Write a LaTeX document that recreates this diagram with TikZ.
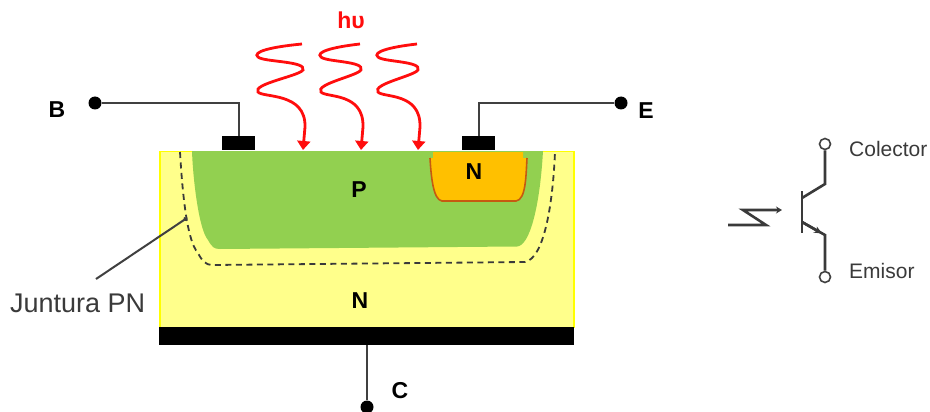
\documentclass[tikz,border=0pt]{standalone}
\usepackage{fontspec}
\setmainfont{Liberation Sans}
\usetikzlibrary{arrows.meta, positioning, calc}
\definecolor{Bulk}{HTML}{FFFF8B}
\definecolor{BulkEdge}{HTML}{FFFF00}
\definecolor{Pwell}{HTML}{92D050}
\definecolor{Pocket}{HTML}{FFC000}
\definecolor{PocketEdge}{HTML}{C55A11}
\definecolor{Photon}{HTML}{FF0D0D}
\definecolor{Wire}{HTML}{404040}
\definecolor{Ink}{HTML}{3A3A3A}

\begin{document}
\begin{tikzpicture}[
    x=1pt, y=-1pt,
    contact/.style={fill=black, inner sep=0pt, minimum width=33pt, minimum height=14pt},
    termdot/.style={circle, fill=black, inner sep=0pt, minimum size=13pt},
    termring/.style={circle, draw=Wire, fill=white, line width=1.6pt, inner sep=0pt, minimum size=11pt},
    wire/.style={draw=Wire, line width=2pt},
    symline/.style={draw=Ink, line width=2.6pt},
    photon/.style={draw=Photon, line width=2.8pt, -{Triangle[length=9pt, width=13pt]}},
    bold/.style={font=\fontsize{23}{23}\selectfont\bfseries},
    lbl/.style={font=\fontsize{21}{21}\selectfont, text=Ink, anchor=west, inner sep=0pt}
]
\useasboundingbox (0,0) rectangle (930,412);

% =============================================
% SUBSTRATE
% =============================================
\draw[BulkEdge, fill=Bulk, line width=1.5pt] (160,328) -- (160,151.5) -- (574,151.5) -- (574,328);
\fill[black] (159,327) rectangle (574,345);

% =============================================
% P REGION
% =============================================
\fill[Pwell] (192,151) .. controls (193,180) and (199,230) .. (208,240)
    .. controls (212,247) and (214,249) .. (220,249)
    -- (517,246.5) .. controls (530,246) and (540,205) .. (543,151) -- cycle;

% N pocket
\fill[Pocket] (430,158) -- (433,158) -- (433,152) -- (523,152) -- (523,158) -- (527,158)
    .. controls (526,175) and (526,200) .. (516,201) -- (442,201)
    .. controls (433,200) and (431,175) .. (430,158) -- cycle;
\draw[PocketEdge, line width=1.6pt] (430,158) .. controls (431,175) and (433,200) .. (442,201)
    -- (516,201) .. controls (526,200) and (526,175) .. (527,158);

% junction
\draw[Ink, line width=1.8pt, dash pattern=on 6pt off 4.5pt] (180,152) .. controls (182,185) and (186,240) .. (198,253)
    .. controls (202,261) and (206,265) .. (212,265)
    -- (525,262) .. controls (545,258) and (553,200) .. (555,152);

% =============================================
% TERMINALS
% =============================================
\node[contact] (contB) at (238.5,143) {};
\node[contact] (contE) at (478.5,143) {};
\node[termdot] (termB) at (95,103) {};
\node[termdot] (termE) at (621,103) {};
\node[termdot] (termC) at (367,407) {};
\coordinate (backC) at (367,345);

\draw[wire] (termB) -| (contB.north);
\draw[wire] (termE) -| (contE.north);
\draw[wire] (backC) -- (termC);

\node[bold] (labB) at (57,110) {B};
\node[bold] (labE) at (646,111) {E};
\node[bold] (labC) at (400,391) {C};
\node[bold] (labP) at (359,190) {P};
\node[bold] (labNs) at (474,172) {N};
\node[bold] (labNb) at (360,301) {N};

% =============================================
% LIGHT
% =============================================
\node[bold, text=Photon] (hv) at (351,20) {hυ};
\foreach \xa/\xb in {258/302, 321/360, 378/417} {
    \draw[photon] (\xb,44) .. controls (\xa+12,47) and (\xa-6,52) .. (\xa,57)
        .. controls (\xa+5,62) and (\xb+5,61) .. (\xb+1,70)
        .. controls (\xb-3,76) and (\xa-6,84) .. (\xa,92)
        .. controls (\xa+5,98) and (\xb+4,92) .. (\xb+3,127)
        -- (\xb+1,150);
}

% =============================================
% JUNCTION LABEL
% =============================================
\node[font=\fontsize{27}{27}\selectfont, text=Ink, anchor=west, inner sep=0pt] (juntura) at (10,303) {Juntura PN};
\coordinate (juntip) at (187,218);
\draw[wire, -{Circle[length=4pt]}] (96,279) -- (juntip);

% =============================================
% SYMBOL
% =============================================
\node[termring] (ringC) at (825,144) {};
\node[termring] (ringE) at (825,277) {};
\coordinate (kneeC) at (825,184);
\coordinate (kneeE) at (825,235);
\coordinate (baseC) at (802,198);
\coordinate (baseE) at (802,222);

\draw[symline] (802,191) -- (802,233);
\draw[symline] (ringC) -- (kneeC) -- (baseC);
\draw[symline] (ringE) -- (kneeE) -- (baseE);
\draw[symline, -{Stealth[length=8pt, width=7pt]}] (baseE) -- (822,233.5);
\draw[symline, -{Stealth[length=6pt, width=7pt]}] (728,225) -- (766,225) -- (743,210) -- (782,210);

\node[lbl] (colector) at (849,149) {Colector};
\node[lbl] (emisor) at (849,271) {Emisor};

\end{tikzpicture}
\end{document}
